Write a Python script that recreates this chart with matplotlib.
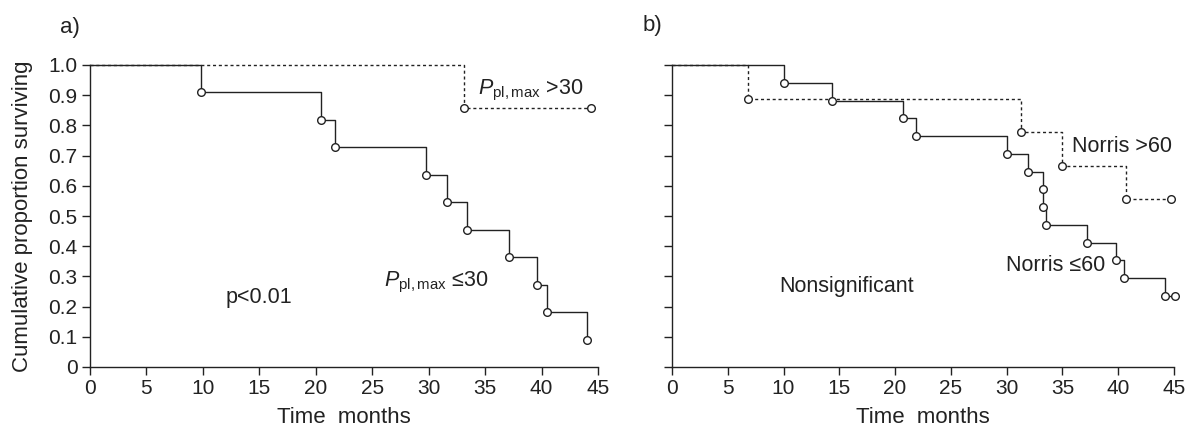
import matplotlib
matplotlib.use("Agg")
import matplotlib.pyplot as plt

# ---------------- data ----------------
a_low_times = [0, 9.8, 20.5, 21.7, 29.8, 31.6, 33.4, 37.1, 39.6, 40.5, 44.0]
a_low_surv = [1.0, 0.909, 0.818, 0.727, 0.636, 0.545, 0.455, 0.364, 0.273, 0.182, 0.091]
a_high_times = [0, 33.1, 44.4]
a_high_surv = [1.0, 0.857, 0.857]

b_low_times = [0, 10.0, 14.3, 20.7, 21.9, 30.0, 31.9, 33.3, 33.3, 33.5, 37.2, 39.8, 40.5, 44.2, 45.1]
b_low_surv = [1.0, 0.941, 0.882, 0.824, 0.765, 0.706, 0.647, 0.588, 0.529, 0.471, 0.412, 0.353, 0.294, 0.235, 0.235]
b_high_times = [0, 6.8, 31.25, 35.0, 40.7, 44.75]
b_high_surv = [1.0, 0.889, 0.778, 0.667, 0.556, 0.556]

x_ticks = [0, 5, 10, 15, 20, 25, 30, 35, 40, 45]
y_ticks = [0, 0.1, 0.2, 0.3, 0.4, 0.5, 0.6, 0.7, 0.8, 0.9, 1.0]
y_ticklabels = ["0", "0.1", "0.2", "0.3", "0.4", "0.5", "0.6", "0.7", "0.8", "0.9", "1.0"]

# ---------------- style ----------------
fam = "Liberation Sans"
plt.rcParams["font.family"] = [fam, "DejaVu Sans"]
plt.rcParams["mathtext.fontset"] = "custom"
plt.rcParams["mathtext.rm"] = fam
plt.rcParams["mathtext.it"] = fam + ":italic"
TXT = "#222222"

fig = plt.figure(figsize=(11.92, 4.34), dpi=100)
W, H = 1192, 434
ax_a = fig.add_axes([90 / W, (H - 367) / H, 508 / W, 302 / H])
ax_b = fig.add_axes([672 / W, (H - 367) / H, 502 / W, 302 / H])


def km(ax, t, s, dashed):
    ls = (0, (2.2, 2.0)) if dashed else "-"
    ax.step(t, s, where="post", color="#222222", lw=1.0, ls=ls, clip_on=False, zorder=2)
    ax.plot(t[1:], s[1:], ls="none", marker="o", ms=5.5, mfc="white",
            mec="#222222", mew=1.0, clip_on=False, zorder=3)


for ax in (ax_a, ax_b):
    ax.set_xlim(0, 45)
    ax.set_ylim(0, 1.0)
    for sp in ("top", "right"):
        ax.spines[sp].set_visible(False)
    for sp in ("left", "bottom"):
        ax.spines[sp].set_linewidth(1.0)
        ax.spines[sp].set_color("#222222")
    ax.set_xticks(x_ticks)
    ax.set_xticklabels([str(v) for v in x_ticks], fontsize=15, color=TXT)
    ax.set_yticks(y_ticks)
    ax.tick_params(direction="out", length=6, width=1.0, color="#222222", pad=3)
    ax.set_xlabel("Time  months", fontsize=16, color=TXT, labelpad=6)

ax_a.set_yticklabels(y_ticklabels, fontsize=15, color=TXT)
ax_b.set_yticklabels([])
ax_a.set_ylabel("Cumulative proportion surviving", fontsize=16, color=TXT, labelpad=11)

km(ax_a, a_high_times, a_high_surv, True)
km(ax_a, a_low_times, a_low_surv, False)
km(ax_b, b_high_times, b_high_surv, True)
km(ax_b, b_low_times, b_low_surv, False)

ax_a.text(12.0, 0.23, "p<0.01", fontsize=15.5, color=TXT, va="center")
ax_a.text(26.0, 0.28, r"$\mathit{P}_{\mathrm{pl,max}}$ " + "\u226430",
          fontsize=15.5, color=TXT, va="center")
ax_a.text(34.4, 0.915, r"$\mathit{P}_{\mathrm{pl,max}}$ >30", fontsize=15.5, color=TXT, va="center")

ax_b.text(9.6, 0.265, "Nonsignificant", fontsize=15.5, color=TXT, va="center")
ax_b.text(35.9, 0.73, "Norris >60", fontsize=15.5, color=TXT, va="center")
ax_b.text(29.9, 0.335, "Norris \u226460", fontsize=15.5, color=TXT, va="center")

fig.text(70 / W, 1 - 27 / H, "a)", fontsize=16, color=TXT, ha="center", va="center")
fig.text(652 / W, 1 - 26 / H, "b)", fontsize=16, color=TXT, ha="center", va="center")

fig.savefig("out.png", dpi=100)
